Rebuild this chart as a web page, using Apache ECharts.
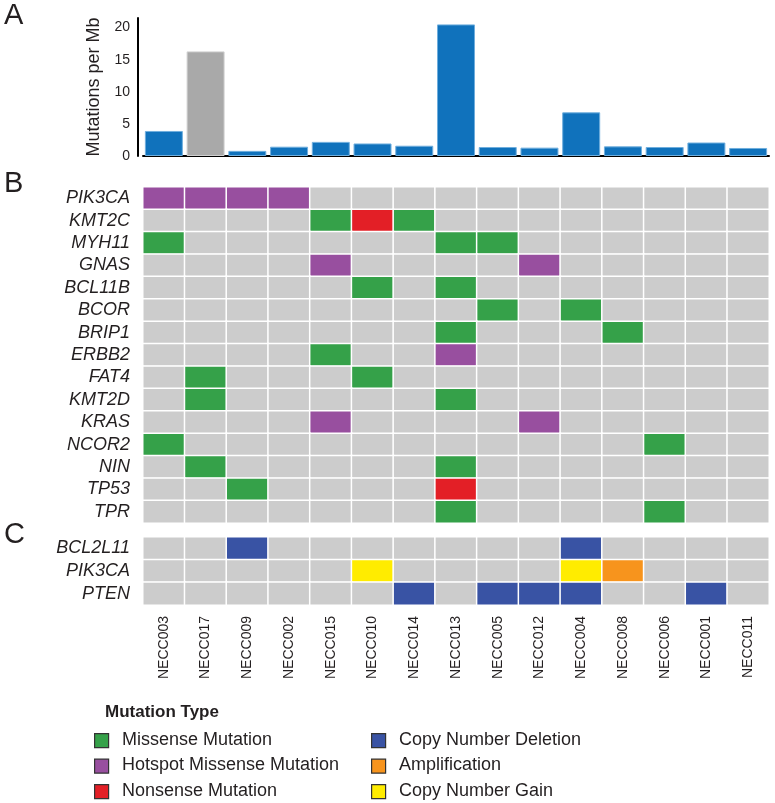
<!DOCTYPE html>
<html>
<head>
<meta charset="utf-8">
<script src="https://cdn.jsdelivr.net/npm/echarts@6/dist/echarts.min.js"></script>
<style>
  html, body { margin: 0; padding: 0; background: #fff; }
  #main { width: 775px; height: 803px; }
</style>
</head>
<body>
<div id="main"></div>
<script>
// samples, left to right
var samples = ['NECC003', 'NECC017', 'NECC009', 'NECC002', 'NECC015', 'NECC010', 'NECC014', 'NECC013',
               'NECC005', 'NECC012', 'NECC004', 'NECC008', 'NECC006', 'NECC001', 'NECC011'];
// mutations per Mb
var tmb = [3.9, 16.3, 0.8, 1.45, 2.2, 1.95, 1.6, 20.5, 1.4, 1.3, 6.8, 1.5, 1.4, 2.1, 1.25];
var hypermutated = ['NECC017'];
var yTicks = [0, 5, 10, 15, 20];

// 0 none, 1 missense, 2 hotspot missense, 3 nonsense, 4 deletion, 5 amplification, 6 gain
var mutTypes = ['Missense Mutation', 'Hotspot Missense Mutation', 'Nonsense Mutation',
                'Copy Number Deletion', 'Amplification', 'Copy Number Gain'];

var genesB = ['PIK3CA', 'KMT2C', 'MYH11', 'GNAS', 'BCL11B', 'BCOR', 'BRIP1', 'ERBB2',
              'FAT4', 'KMT2D', 'KRAS', 'NCOR2', 'NIN', 'TP53', 'TPR'];
var mutB = [
    [2,2,2,2,0,0,0,0,0,0,0,0,0,0,0],
    [0,0,0,0,1,3,1,0,0,0,0,0,0,0,0],
    [1,0,0,0,0,0,0,1,1,0,0,0,0,0,0],
    [0,0,0,0,2,0,0,0,0,2,0,0,0,0,0],
    [0,0,0,0,0,1,0,1,0,0,0,0,0,0,0],
    [0,0,0,0,0,0,0,0,1,0,1,0,0,0,0],
    [0,0,0,0,0,0,0,1,0,0,0,1,0,0,0],
    [0,0,0,0,1,0,0,2,0,0,0,0,0,0,0],
    [0,1,0,0,0,1,0,0,0,0,0,0,0,0,0],
    [0,1,0,0,0,0,0,1,0,0,0,0,0,0,0],
    [0,0,0,0,2,0,0,0,0,2,0,0,0,0,0],
    [1,0,0,0,0,0,0,0,0,0,0,0,1,0,0],
    [0,1,0,0,0,0,0,1,0,0,0,0,0,0,0],
    [0,0,1,0,0,0,0,3,0,0,0,0,0,0,0],
    [0,0,0,0,0,0,0,1,0,0,0,0,1,0,0]
];

var genesC = ['BCL2L11', 'PIK3CA', 'PTEN'];
var mutC = [
    [0,0,4,0,0,0,0,0,0,0,4,0,0,0,0],
    [0,0,0,0,0,6,0,0,0,0,6,5,0,0,0],
    [0,0,0,0,0,0,4,0,4,4,4,0,0,4,0]
];

var noneColor = '#CCCCCC';
var typeColors = ['#35A149', '#984F9F', '#E31F26', '#3953A4', '#F7941D', '#FFEC00'];
var textColor = '#231F20';
var fontFamily = '"Liberation Sans", Arial, sans-serif';

function toCells(matrix) {
    var out = [];
    for (var r = 0; r < matrix.length; r++) {
        for (var c = 0; c < matrix[r].length; c++) {
            out.push([c, r, matrix[r][c]]);
        }
    }
    return out;
}

var barData = tmb.map(function (v, i) {
    var grey = hypermutated.indexOf(samples[i]) >= 0;
    return {
        value: v,
        itemStyle: grey ? { color: '#A9A9A9', borderColor: '#D0D0D0' } : {}
    };
});

var pieces = [{ value: 0, color: noneColor }];
for (var k = 0; k < mutTypes.length; k++) {
    pieces.push({ value: k + 1, color: typeColors[k] });
}

// legend (两列)
var legendGraphic = [{
    type: 'text', left: 105, top: 704,
    style: { text: 'Mutation Type', fill: textColor, font: 'bold 17px ' + fontFamily }
}];
mutTypes.forEach(function (name, i) {
    var col = i < 3 ? 0 : 1;
    var row = i % 3;
    var x = col === 0 ? 94 : 371;
    var y = 733 + row * 25.5;
    legendGraphic.push({
        type: 'rect', left: x, top: y,
        shape: { width: 14, height: 14 },
        style: { fill: typeColors[i], stroke: '#333', lineWidth: 1.2 }
    });
    legendGraphic.push({
        type: 'text', left: x + 28, top: y - 2,
        style: { text: name, font: '18px ' + fontFamily, fill: textColor }
    });
});

// panel letters
[['A', 15], ['B', 183], ['C', 534]].forEach(function (p) {
    legendGraphic.push({
        type: 'text', left: 4, top: p[1] - 14,
        style: { text: p[0], font: '29px ' + fontFamily, fill: textColor }
    });
});

var myChart = echarts.init(document.getElementById('main'), null, { renderer: 'canvas' });

var option = {
    animation: false,
    backgroundColor: '#fff',
    textStyle: { fontFamily: fontFamily },
    grid: [
        { left: 143, right: 6, top: 18, height: 138 },
        { left: 143, right: 6, top: 187, height: 336 },
        { left: 143, right: 6, top: 537, height: 68 }
    ],
    xAxis: [
        {
            gridIndex: 0, type: 'category', data: samples,
            axisLine: { lineStyle: { color: '#000', width: 2 } },
            axisTick: { show: false }, axisLabel: { show: false }
        },
        {
            gridIndex: 1, type: 'category', data: samples,
            axisLine: { show: false }, axisTick: { show: false }, axisLabel: { show: false }
        },
        {
            gridIndex: 2, type: 'category', data: samples,
            axisLine: { show: false }, axisTick: { show: false },
            axisLabel: { interval: 0, rotate: 90, margin: 11, fontSize: 14, color: textColor }
        }
    ],
    yAxis: [
        {
            gridIndex: 0, type: 'value', min: 0, max: 21.5, interval: 5,
            offset: 5,
            name: 'Mutations per Mb', nameLocation: 'middle', nameRotate: 90, nameGap: 32,
            nameTextStyle: { fontSize: 18, color: textColor },
            axisLine: { show: true, lineStyle: { color: '#000', width: 2 } },
            axisTick: { show: false },
            splitLine: { show: false },
            axisLabel: {
                fontSize: 14, color: textColor, margin: 8, showMaxLabel: false,
                formatter: function (v) { return yTicks.indexOf(v) >= 0 ? String(v) : ''; }
            }
        },
        {
            gridIndex: 1, type: 'category', data: genesB, inverse: true,
            axisLine: { show: false }, axisTick: { show: false },
            axisLabel: { interval: 0, fontSize: 18, fontStyle: 'italic', color: textColor, margin: 13 }
        },
        {
            gridIndex: 2, type: 'category', data: genesC, inverse: true,
            axisLine: { show: false }, axisTick: { show: false },
            axisLabel: { interval: 0, fontSize: 18, fontStyle: 'italic', color: textColor, margin: 13 }
        }
    ],
    visualMap: {
        type: 'piecewise', show: false, seriesIndex: [1, 2],
        pieces: pieces
    },
    graphic: legendGraphic,
    series: [
        {
            type: 'bar', xAxisIndex: 0, yAxisIndex: 0,
            barCategoryGap: '9%',
            itemStyle: { color: '#1072BC', borderColor: '#6FAEDD', borderWidth: 1 },
            data: barData
        },
        {
            type: 'heatmap', xAxisIndex: 1, yAxisIndex: 1,
            itemStyle: { borderColor: '#fff', borderWidth: 1.5 },
            data: toCells(mutB)
        },
        {
            type: 'heatmap', xAxisIndex: 2, yAxisIndex: 2,
            itemStyle: { borderColor: '#fff', borderWidth: 1.5 },
            data: toCells(mutC)
        }
    ]
};

myChart.setOption(option);
</script>
</body>
</html>
